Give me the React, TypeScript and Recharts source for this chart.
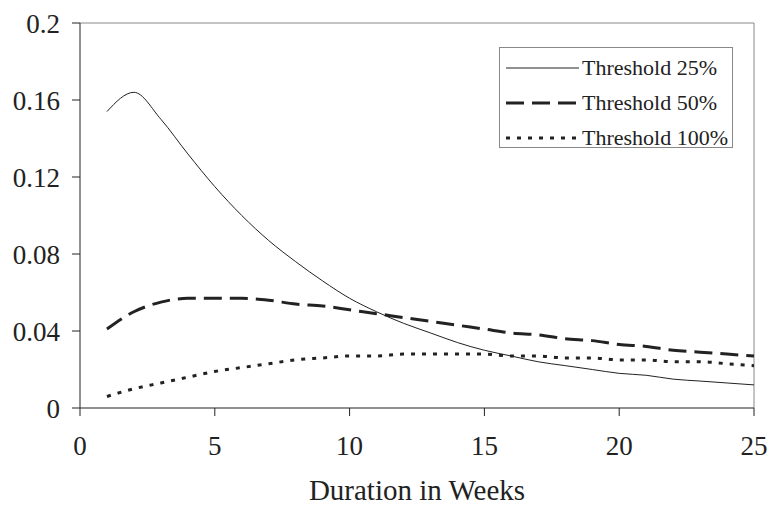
import React from 'react';
import {
  LineChart,
  Line,
  XAxis,
  YAxis,
  Legend,
  ReferenceLine,
} from 'recharts';

const weeks = [1, 2, 3, 4, 5, 6, 7, 8, 9, 10, 11, 12, 13, 14, 15, 16, 17, 18, 19, 20, 21, 22, 23, 24, 25];

const threshold25 = [
  0.154, 0.164, 0.150, 0.132, 0.115, 0.100, 0.087, 0.076, 0.066, 0.057, 0.050, 0.044, 0.039,
  0.034, 0.030, 0.027, 0.024, 0.022, 0.020, 0.018, 0.017, 0.015, 0.014, 0.013, 0.012,
];
const threshold50 = [
  0.041, 0.050, 0.055, 0.057, 0.057, 0.057, 0.056, 0.054, 0.053, 0.051, 0.049, 0.047, 0.045,
  0.043, 0.041, 0.039, 0.038, 0.036, 0.035, 0.033, 0.032, 0.030, 0.029, 0.028, 0.027,
];
const threshold100 = [
  0.006, 0.010, 0.013, 0.016, 0.019, 0.021, 0.023, 0.025, 0.026, 0.027, 0.027, 0.028, 0.028,
  0.028, 0.028, 0.027, 0.027, 0.026, 0.026, 0.025, 0.025, 0.024, 0.024, 0.023, 0.022,
];

const xTicks = [0, 5, 10, 15, 20, 25];
const yTicks = [0, 0.04, 0.08, 0.12, 0.16, 0.2];

const series = [
  { key: 't25', name: 'Threshold 25%', width: 1, dash: undefined as string | undefined },
  { key: 't50', name: 'Threshold 50%', width: 3, dash: '18 8' },
  { key: 't100', name: 'Threshold 100%', width: 3, dash: '4 7' },
];

const chartData = weeks.map((w, i) => ({
  week: w,
  t25: threshold25[i],
  t50: threshold50[i],
  t100: threshold100[i],
}));

const FONT = '"Liberation Serif", "Times New Roman", serif';
const INK = '#222';

// legend drawn as a plain box; the wrapper is placed by hand inside the plot
const LegendBox = () => (
  <div
    style={{
      width: 234,
      height: 101,
      boxSizing: 'border-box',
      border: '1px solid #888',
      background: '#fff',
      fontFamily: FONT,
      fontSize: 22,
      color: INK,
      paddingTop: 2,
      textAlign: 'left',
    }}
  >
    {series.map((s) => (
      <div key={s.key} style={{ display: 'flex', alignItems: 'center', height: 35 }}>
        <svg width={82} height={10} style={{ flex: 'none' }}>
          <line
            x1={6}
            x2={79}
            y1={5}
            y2={5}
            stroke={INK}
            strokeWidth={s.width}
            strokeDasharray={s.dash}
          />
        </svg>
        <span style={{ whiteSpace: 'nowrap', fontFamily: FONT, lineHeight: '24px' }}>{s.name}</span>
      </div>
    ))}
  </div>
);

const App: React.FC = () => {
  return (
    <div style={{ position: 'absolute', left: 0, top: 0 }}>
      <LineChart
        width={769}
        height={507}
        data={chartData}
        margin={{ top: 23, right: 15, bottom: 0, left: 0 }}
      >
        <XAxis
          dataKey="week"
          type="number"
          domain={[0, 25]}
          ticks={xTicks}
          height={99}
          tickSize={8}
          tickMargin={20}
          stroke={INK}
          tick={{ fontSize: 27, fill: INK, fontFamily: FONT }}
          label={{
            value: 'Duration in Weeks',
            position: 'insideBottom',
            offset: 7,
            fontSize: 29,
            fill: INK,
            fontFamily: FONT,
          }}
        />
        <YAxis
          type="number"
          domain={[0, 0.2]}
          ticks={yTicks}
          width={80}
          tickSize={8}
          tickMargin={12}
          stroke={INK}
          tick={{ fontSize: 27, fill: INK, fontFamily: FONT }}
        />
        <ReferenceLine y={0.2} stroke="#888" strokeWidth={1} />
        <ReferenceLine x={25} stroke="#888" strokeWidth={1} />
        <Legend
          layout="vertical"
          align="center"
          verticalAlign="middle"
          content={<LegendBox />}
          wrapperStyle={{ left: 499, top: 47, width: 234, height: 101 }}
        />
        {series.map((s) => (
          <Line
            key={s.key}
            dataKey={s.key}
            name={s.name}
            type="monotone"
            stroke={INK}
            strokeWidth={s.width}
            strokeDasharray={s.dash}
            dot={false}
            isAnimationActive={false}
          />
        ))}
      </LineChart>
    </div>
  );
};

export default App;
